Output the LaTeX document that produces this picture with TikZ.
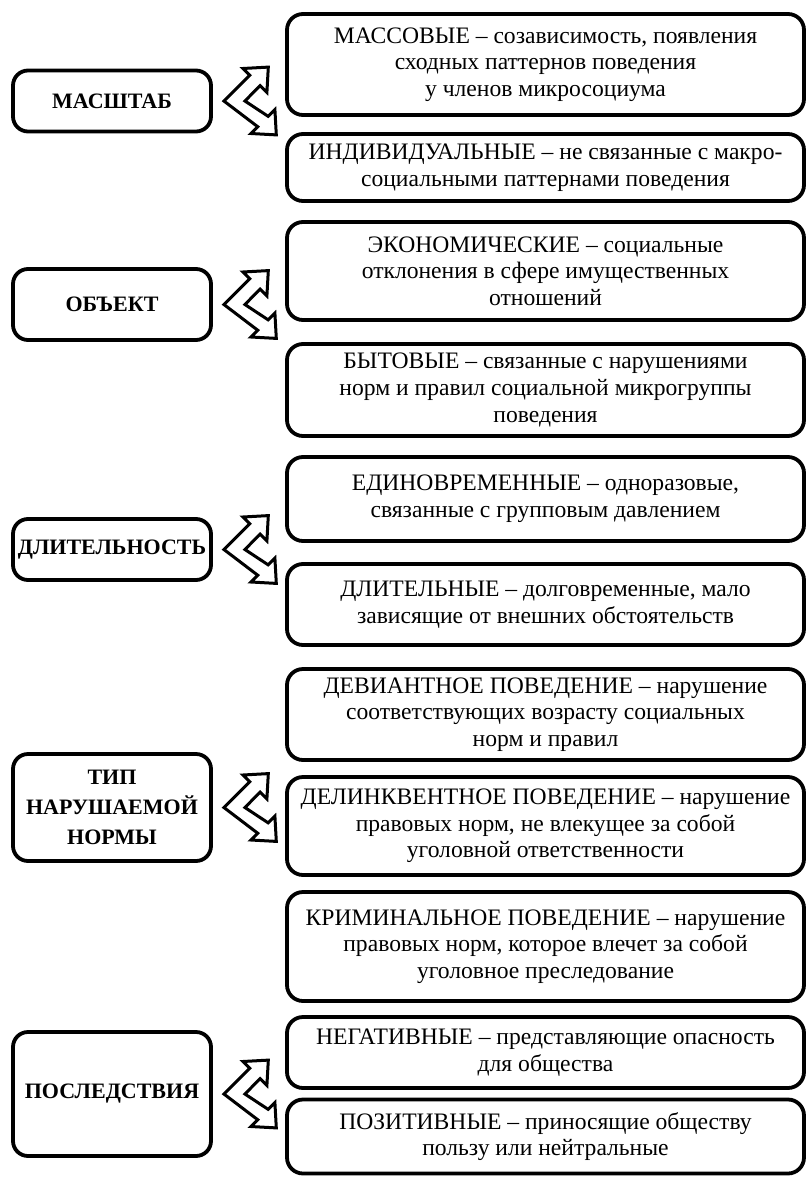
\documentclass[tikz,border=0pt]{standalone}
\usepackage{fontspec}
\setmainfont{Liberation Serif}
\usetikzlibrary{positioning}

\newcommand{\twowayarrow}[1]{%
\draw[twoway] ([xshift=5.5pt]#1.east) -- +(25.8,-25.7) -- +(19,-32.5) -- +(44.4,-33.9)
  -- +(43,-8.5) -- +(36.2,-15.3) -- +(21,0) -- +(44.2,15.3) -- +(51,8.5)
  -- +(52.4,33.9) -- +(27,32.5) -- +(33.8,25.7) -- cycle;}

\begin{document}
\begin{tikzpicture}[x=0.5pt,y=-0.5pt]

\tikzstyle{category}=[rectangle, rounded corners=7.5pt, line width=1.9pt, draw=black, fill=white, minimum width=99pt, inner xsep=1pt, align=center, font=\bfseries\fontsize{11}{15}\selectfont]
\tikzstyle{kind}=[rectangle, rounded corners=8pt, line width=1.9pt, draw=black, fill=white, minimum width=258.5pt, align=center, font=\fontsize{11.8}{13.3}\selectfont]
\tikzstyle{twoway}=[line width=1.5pt, draw=black, fill=white, line join=miter]

\useasboundingbox (0,0) rectangle (809,1178);

% right column
\node (mas1) [kind, minimum height=50.5pt] at (545.5,64.5) {МАССОВЫЕ – созависимость, появления\\сходных паттернов поведения\\у членов микросоциума};
\node (mas2) [kind, minimum height=33.5pt] at (545.5,167.5) {ИНДИВИДУАЛЬНЫЕ – не связанные с макро-\\социальными паттернами поведения};
\node (obj1) [kind, minimum height=49pt] at (545.5,271) {ЭКОНОМИЧЕСКИЕ – социальные\\отклонения в сфере имущественных\\отношений};
\node (obj2) [kind, minimum height=46pt] at (545.5,390) {БЫТОВЫЕ – связанные с нарушениями\\норм и правил социальной микрогруппы\\поведения};
\node (dl1) [kind, minimum height=42pt] at (545.5,499) {ЕДИНОВРЕМЕННЫЕ – одноразовые,\\связанные с групповым давлением};
\node (dl2) [kind, minimum height=40.5pt] at (545.5,604.5) {ДЛИТЕЛЬНЫЕ – долговременные, мало\\зависящие от внешних обстоятельств};
\node (tip1) [kind, minimum height=45.5pt] at (545.5,714.5) {ДЕВИАНТНОЕ ПОВЕДЕНИЕ – нарушение\\соответствующих возрасту социальных\\норм и правил};
\node (tip2) [kind, minimum height=49pt] at (545.5,826) {ДЕЛИНКВЕНТНОЕ ПОВЕДЕНИЕ – нарушение\\правовых норм, не влекущее за собой\\уголовной ответственности};
\node (tip3) [kind, minimum height=54.5pt] at (545.5,946.5) {КРИМИНАЛЬНОЕ ПОВЕДЕНИЕ – нарушение\\правовых норм, которое влечет за собой\\уголовное преследование};
\node (pos1) [kind, minimum height=35.5pt] at (545.5,1052.5) {НЕГАТИВНЫЕ – представляющие опасность\\для общества};
\node (pos2) [kind, minimum height=37pt] at (545.5,1136.5) {ПОЗИТИВНЫЕ – приносящие обществу\\пользу или нейтральные};

% left column
\node (mas) [category, minimum height=30.5pt] at (112,101) {МАСШТАБ};
\node (obj) [category, minimum height=35.5pt] at (112,304.5) {ОБЪЕКТ};
\node (dl) [category, minimum height=30.5pt] at (112,549.5) {ДЛИТЕЛЬНОСТЬ};
\node (tip) [category, minimum height=53.5pt] at (112,807.5) {ТИП\\НАРУШАЕМОЙ\\НОРМЫ};
\node (pos) [category, minimum height=62pt] at (112,1094) {ПОСЛЕДСТВИЯ};

% arrows
\twowayarrow{mas}
\twowayarrow{obj}
\twowayarrow{dl}
\twowayarrow{tip}
\twowayarrow{pos}

\end{tikzpicture}
\end{document}
